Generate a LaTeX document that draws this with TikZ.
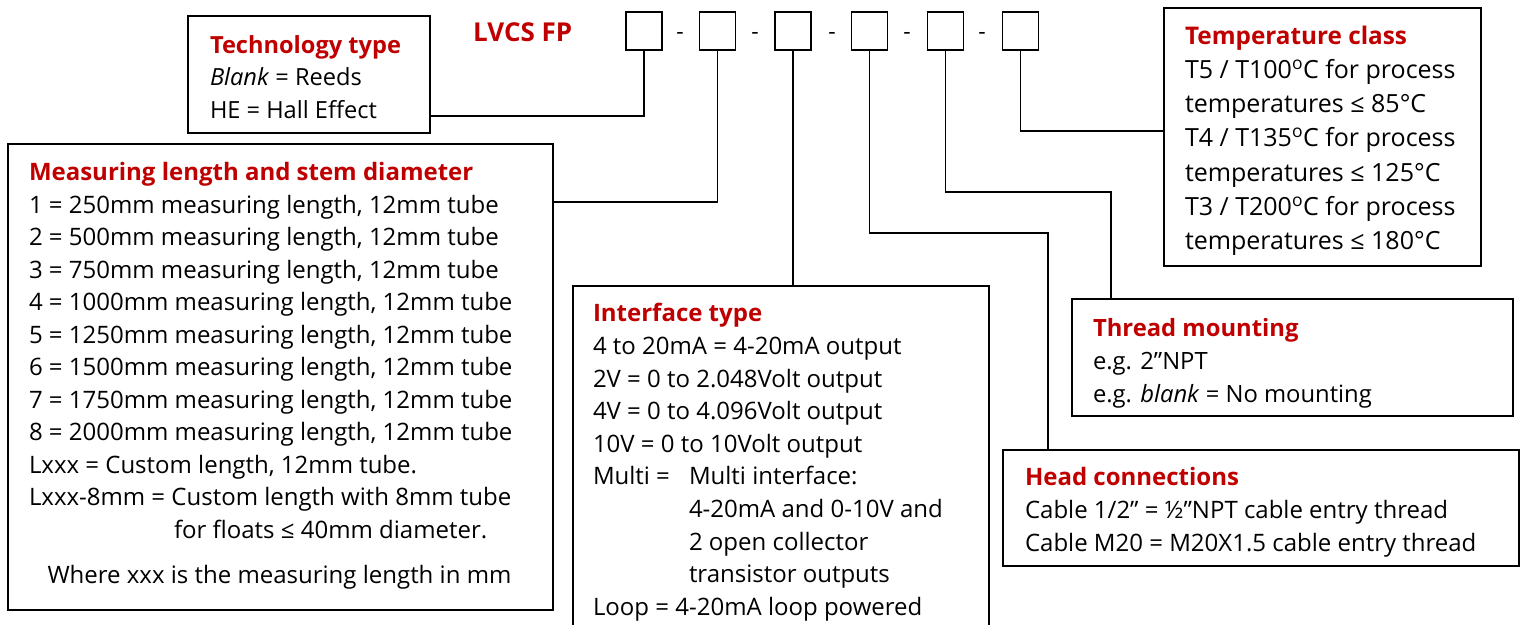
\documentclass[tikz,border=0pt]{standalone}
\usepackage{fontspec}
\setmainfont{Open Sans}
\definecolor{hdr}{RGB}{192,0,0}
\newcommand\hd[1]{\textcolor{hdr}{\textbf{#1}}}
\tikzset{
  frame/.style={draw, line width=1.8pt, inner sep=0pt, outer sep=0pt, anchor=north west},
  sq/.style={draw, line width=1.8pt, minimum width=36pt, minimum height=38pt, inner sep=0pt, outer sep=0pt},
  txt/.style={anchor=north west, inner sep=0pt, outer sep=0pt, align=left, text=black},
  dashtxt/.style={anchor=base, inner sep=0pt, font=\fontsize{23}{27}\selectfont},
  link/.style={line width=1.6pt}
}
\begin{document}
\begin{tikzpicture}[x=1pt,y=-1pt]
\useasboundingbox (0,0) rectangle (1522,624);
% title
\node[anchor=base west, inner sep=0pt, font=\fontsize{26}{30}\selectfont] (lvcs) at (473,41.5) {\hd{LVCS FP}};
% squares
\node[sq] (s1) at (644,31) {};
\node[sq] (s2) at (717.5,31) {};
\node[sq] (s3) at (793,31) {};
\node[sq] (s4) at (869.5,31) {};
\node[sq] (s5) at (945.5,31) {};
\node[sq] (s6) at (1020.5,31) {};
\node[dashtxt] (d1) at (680,39.5) {-};
\node[dashtxt] (d2) at (755,39.5) {-};
\node[dashtxt] (d3) at (832,39.5) {-};
\node[dashtxt] (d4) at (907,39.5) {-};
\node[dashtxt] (d5) at (982,39.5) {-};
% frames
\node[frame, minimum width=242pt, minimum height=117pt] (tech) at (188,16) {};
\node[frame, minimum width=545pt, minimum height=466pt] (meas) at (8,144) {};
\node[frame, minimum width=416pt, minimum height=340pt] (iface) at (573,286) {};
\node[frame, minimum width=317pt, minimum height=258pt] (temp) at (1164,8) {};
\node[frame, minimum width=441pt, minimum height=117pt] (thread) at (1072,299) {};
\node[frame, minimum width=516pt, minimum height=116pt] (head) at (1003,450) {};
% texts
\node[txt, font=\fontsize{23.6}{32.5}\selectfont] (techtxt) at (210,30.25)
 {\strut\hd{Technology type}\\ \textit{Blank} = Reeds\\ HE = Hall Effect};
\node[txt, font=\fontsize{24}{32.5}\selectfont] (meastxt) at (29,157.75)
 {\strut\hd{Measuring length and stem diameter}\\
  1 = 250mm measuring length, 12mm tube\\
  2 = 500mm measuring length, 12mm tube\\
  3 = 750mm measuring length, 12mm tube\\
  4 = 1000mm measuring length, 12mm tube\\
  5 = 1250mm measuring length, 12mm tube\\
  6 = 1500mm measuring length, 12mm tube\\
  7 = 1750mm measuring length, 12mm tube\\
  8 = 2000mm measuring length, 12mm tube\\
  Lxxx = Custom length, 12mm tube.\\
  Lxxx-8mm = Custom length with 8mm tube\\
  \hspace*{145pt}for floats ≤ 40mm diameter.\\[12.5pt]
  \hspace*{18.5pt}Where xxx is the measuring length in mm};
\node[txt, font=\fontsize{24}{32.6}\selectfont] (ifacetxt) at (593,299)
 {\strut\hd{Interface type}\\
  4 to 20mA = 4-20mA output\\
  2V = 0 to 2.048Volt output\\
  4V = 0 to 4.096Volt output\\
  10V = 0 to 10Volt output\\
  \makebox[96pt][l]{Multi =}Multi interface:\\
  \hspace*{96pt}4-20mA and 0-10V and\\
  \hspace*{96pt}2 open collector\\
  \hspace*{96pt}transistor outputs\\
  Loop = 4-20mA loop powered};
\node[txt, font=\fontsize{25}{34.3}\selectfont] (temptxt) at (1185,20)
 {\strut{\fontsize{24.3}{34.3}\selectfont\hd{Temperature class}}\\
  T5 / T100\textsuperscript{o}C for process\\
  temperatures ≤ 85°C\\
  T4 / T135\textsuperscript{o}C for process\\
  temperatures ≤ 125°C\\
  T3 / T200\textsuperscript{o}C for process\\
  temperatures ≤ 180°C};
\node[txt, font=\fontsize{23.8}{33}\selectfont] (threadtxt) at (1093,312.9)
 {\strut\hd{Thread mounting}\\ e.g. 2”NPT\\ e.g. \textit{blank} = No mounting};
\node[txt, font=\fontsize{24}{33}\selectfont] (headtxt) at (1025,462.6)
 {\strut\hd{Head connections}\\ Cable 1/2” = ½”NPT cable entry thread\\ Cable M20 = M20X1.5 cable entry thread};
% connector end points on frames
\coordinate (tech-in) at (430,116);
\coordinate (meas-in) at (553,202);
\coordinate (iface-in) at (793,286);
\coordinate (head-in) at (1048,450);
\coordinate (thread-in) at (1111,299);
\coordinate (temp-in) at (1164,131);
% connectors
\draw[link] (s1.south) |- (tech-in);
\draw[link] (s2.south) |- (meas-in);
\draw[link] (s3.south) -- (iface-in);
\draw[link] (s4.south) -- ++(0,183) -| (head-in);
\draw[link] (s5.south) -- ++(0,142) -| (thread-in);
\draw[link] (s6.south) |- (temp-in);
\end{tikzpicture}
\end{document}
